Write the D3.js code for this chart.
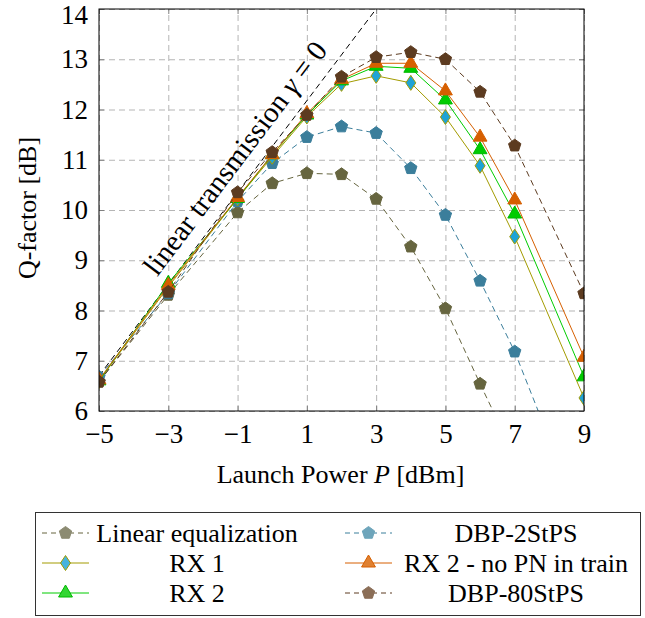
<!DOCTYPE html>
<html>
<head>
<meta charset="utf-8">
<script src="https://cdn.jsdelivr.net/npm/d3@7"></script>
<style>
  body { margin: 0; background: #fff; }
  svg { display: block; font-family: "Liberation Serif", "DejaVu Serif", serif; }
</style>
</head>
<body>
<div class="chart"></div>
<script>
// launch power (dBm) and Q-factor (dB)
var powers = [-5, -3, -1, 0, 1, 2, 3, 4, 5, 6, 7, 9];
var linearEq = [6.58, 8.31, 9.95, 10.53, 10.73, 10.71, 10.22, 9.27, 8.04, 6.54, 5.1, 2.6];
var dbp2 = [6.68, 8.34, 10.17, 10.93, 11.45, 11.66, 11.53, 10.83, 9.90, 8.59, 7.18, 3.7];
var rx1 = [6.6, 8.47, 10.23, 11.06, 11.86, 12.51, 12.67, 12.53, 11.85, 10.88, 9.47, 6.26];
var rx2 = [6.6, 8.54, 10.23, 11.1, 11.89, 12.57, 12.86, 12.82, 12.19, 11.20, 9.92, 6.68];
var rx2noPN = [6.62, 8.5, 10.25, 11.1, 11.92, 12.6, 12.92, 12.92, 12.37, 11.45, 10.20, 7.07];
var dbp80 = [6.58, 8.37, 10.35, 11.15, 11.89, 12.65, 13.04, 13.14, 13.00, 12.35, 11.28, 8.34];

// linear transmission reference line
var refX = [-5, 3];
var refY = [6.7, 14];

var xTicks = [-5, -3, -1, 1, 3, 5, 7, 9];
var yTicks = [6, 7, 8, 9, 10, 11, 12, 13, 14];

var names = ["Linear equalization", "DBP-2StPS", "RX 1", "RX 2 - no PN in train", "RX 2", "DBP-80StPS"];

var svgWidth = 645, svgHeight = 618;
var margin = { top: 9, right: 61, bottom: 207, left: 99 };
var width = svgWidth - margin.left - margin.right;
var height = svgHeight - margin.top - margin.bottom;

var svg = d3.select(".chart").append("svg")
  .attr("width", svgWidth)
  .attr("height", svgHeight);

var x = d3.scaleLinear().domain([-5, 9]).range([0, width]);
var y = d3.scaleLinear().domain([6, 14]).range([height, 0]);

var chartGroup = svg.append("g")
  .attr("transform", `translate(${margin.left}, ${margin.top})`);

svg.append("defs").append("clipPath").attr("id", "clip")
  .append("rect").attr("width", width).attr("height", height);

// grid
chartGroup.append("g")
  .attr("transform", `translate(0, ${height})`)
  .call(d3.axisBottom(x).tickValues(xTicks).tickSize(-height).tickFormat(""))
  .call(g => g.select(".domain").remove())
  .selectAll("line").attr("stroke", "#b5b5b5").attr("stroke-dasharray", "6,4");

chartGroup.append("g")
  .call(d3.axisLeft(y).tickValues(yTicks).tickSize(-width).tickFormat(""))
  .call(g => g.select(".domain").remove())
  .selectAll("line").attr("stroke", "#b5b5b5").attr("stroke-dasharray", "6,4");

// small inner ticks on all sides
[[d3.axisBottom(x).tickValues(xTicks), `translate(0, ${height})`],
 [d3.axisTop(x).tickValues(xTicks), "translate(0,0)"],
 [d3.axisLeft(y).tickValues(yTicks), "translate(0,0)"],
 [d3.axisRight(y).tickValues(yTicks), `translate(${width},0)`]].forEach(function(a) {
  chartGroup.append("g")
    .attr("transform", a[1])
    .call(a[0].tickSize(-5).tickFormat(""))
    .call(g => g.select(".domain").remove())
    .selectAll("line").attr("stroke", "#808080");
});

// tick labels
var fmt = d => (d < 0 ? "\u2212" + Math.abs(d) : d);
chartGroup.append("g")
  .attr("transform", `translate(0, ${height})`)
  .call(d3.axisBottom(x).tickValues(xTicks).tickSize(0).tickPadding(0).tickFormat(fmt))
  .call(g => g.select(".domain").remove())
  .selectAll("text")
  .attr("font-family", "Liberation Serif, DejaVu Serif, serif").attr("font-size", 27).attr("fill", "#000")
  .attr("y", 23).attr("dy", "0.35em");

chartGroup.append("g")
  .call(d3.axisLeft(y).tickValues(yTicks).tickSize(0).tickPadding(11).tickFormat(fmt))
  .call(g => g.select(".domain").remove())
  .selectAll("text")
  .attr("font-family", "Liberation Serif, DejaVu Serif, serif").attr("font-size", 27).attr("fill", "#000")
  .attr("dy", d => d === 14 ? "0.55em" : "0.32em");

// axis labels
chartGroup.append("text")
  .attr("x", x(2) - 1)
  .attr("y", height + 72)
  .attr("text-anchor", "middle")
  .attr("font-size", 26)
  .html('Launch Power <tspan font-style="italic">P</tspan> [dBm]');

chartGroup.append("text")
  .attr("transform", "rotate(-90)")
  .attr("x", -(y(10) - 2))
  .attr("y", -margin.left + 36)
  .attr("text-anchor", "middle")
  .attr("font-size", 26)
  .text("Q-factor [dB]");

var plot = chartGroup.append("g").attr("clip-path", "url(#clip)");

// linear transmission line
plot.append("line")
  .attr("x1", x(refX[0])).attr("y1", y(refY[0]))
  .attr("x2", x(refX[1])).attr("y2", y(refY[1]))
  .attr("stroke", "#000").attr("stroke-width", 1).attr("stroke-dasharray", "6,4");

// label along the reference line
var t = -0.55;
var tx = x(t), ty = y(refY[0] + (t - refX[0]) * (refY[1] - refY[0]) / (refX[1] - refX[0]));
var ang = Math.atan2(y(refY[1]) - y(refY[0]), x(refX[1]) - x(refX[0])) * 180 / Math.PI;
chartGroup.append("text")
  .attr("transform", `translate(${tx}, ${ty}) rotate(${ang}) translate(0, -13)`)
  .attr("text-anchor", "middle")
  .attr("font-size", 29)
  .html('linear transmission <tspan font-style="italic">γ</tspan> = 0');

// marker shapes
function pentagon(r) {
  var p = d3.range(5).map(function(k) {
    var a = -Math.PI / 2 + k * 2 * Math.PI / 5;
    return [r * Math.cos(a), r * Math.sin(a)];
  });
  return "M" + p.join("L") + "Z";
}
function diamond(w, h) { return `M0,${-h}L${w},0L0,${h}L${-w},0Z`; }
function triangle(r) {
  return `M0,${-r}L${r * 0.866},${r * 0.5}L${-r * 0.866},${r * 0.5}Z`;
}

var series = [
  { name: names[0], values: linearEq, color: "#66653f", fill: "#66653f", edge: "#66653f", lfill: "#8c8b72", dash: "6,4", mark: pentagon(6.5) },
  { name: names[1], values: dbp2, color: "#3b7e9b", fill: "#3b7e9b", edge: "#3b7e9b", lfill: "#6ea5bb", dash: "6,4", mark: pentagon(6.5) },
  { name: names[2], values: rx1, color: "#a39b00", fill: "#1fa3d6", edge: "#a39b00", lfill: "#46b3de", dash: null, mark: diamond(5, 7.5) },
  { name: names[4], values: rx2, color: "#00cc00", fill: "#00cc00", edge: "#00b800", lfill: "#33d633", dash: null, mark: triangle(8) },
  { name: names[3], values: rx2noPN, color: "#d65f00", fill: "#d65f00", edge: "#d65f00", lfill: "#e08030", dash: null, mark: triangle(8) },
  { name: names[5], values: dbp80, color: "#5c3b20", fill: "#5c3b20", edge: "#5c3b20", lfill: "#8b6e57", dash: "6,4", mark: pentagon(6.5) }
];

var line = d3.line().x(d => x(d[0])).y(d => y(d[1]));

series.forEach(function(s) {
  var pts = powers.map((p, i) => [p, s.values[i]]);
  plot.append("path")
    .datum(pts)
    .attr("d", line)
    .attr("fill", "none")
    .attr("stroke", s.color)
    .attr("stroke-width", 1)
    .attr("stroke-dasharray", s.dash);
  plot.selectAll(null)
    .data(pts)
    .enter()
    .append("path")
    .attr("d", s.mark)
    .attr("transform", d => `translate(${x(d[0])}, ${y(d[1])})`)
    .attr("fill", s.fill)
    .attr("stroke", s.edge)
    .attr("stroke-width", 1);
});

// frame
chartGroup.append("rect")
  .attr("width", width).attr("height", height)
  .attr("fill", "none").attr("stroke", "#000").attr("stroke-width", 1);

// legend
var legend = svg.append("g");
legend.append("rect")
  .attr("x", 35.5).attr("y", 512.5).attr("width", 605).attr("height", 103)
  .attr("fill", "#fff").attr("stroke", "#333").attr("stroke-width", 1);

var legendOrder = [
  [series[0], 0, 0], [series[1], 1, 0],
  [series[2], 0, 1], [series[4], 1, 1],
  [series[3], 0, 2], [series[5], 1, 2]
];
var colX = [42, 345], textX = [197, 516];
legendOrder.forEach(function(e) {
  var s = e[0], cx = colX[e[1]], cy = 533 + e[2] * 30;
  legend.append("line")
    .attr("x1", cx).attr("x2", cx + 47).attr("y1", cy).attr("y2", cy)
    .attr("stroke", s.color).attr("stroke-width", 1)
    .attr("stroke-dasharray", s.dash ? "5,4" : null);
  legend.append("path")
    .attr("d", s.mark)
    .attr("transform", `translate(${cx + 23.5}, ${cy})`)
    .attr("fill", s.lfill)
    .attr("stroke", s.dash ? s.lfill : s.edge);
  legend.append("text")
    .attr("x", textX[e[1]]).attr("y", cy)
    .attr("dy", "0.33em")
    .attr("text-anchor", "middle")
    .attr("font-size", 26)
    .text(s.name);
});
</script>
</body>
</html>
